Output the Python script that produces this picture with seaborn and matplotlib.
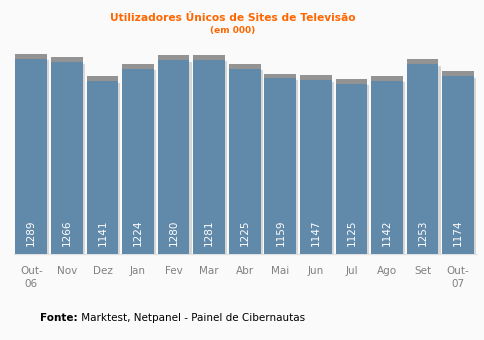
import matplotlib
matplotlib.use("Agg")
import matplotlib.pyplot as plt
import matplotlib.patheffects as pe
import seaborn as sns
import pandas as pd
import numpy as np

months = ["Out-\n06", "Nov", "Dez", "Jan", "Fev", "Mar", "Abr", "Mai", "Jun",
          "Jul", "Ago", "Set", "Out-\n07"]
users = [1289, 1266, 1141, 1224, 1280, 1281, 1225, 1159, 1147, 1125, 1142, 1253, 1174]

title = "Utilizadores Únicos de Sites de Televisão"
subtitle = "(em 000)"
source_label = "Fonte:"
source_text = " Marktest, Netpanel - Painel de Cibernautas"

bg = "#FAFAFA"
bar_color = "#6189AA"
orange = "#FF6600"

sns.set_theme(style="white")
plt.rcParams["font.family"] = ["DejaVu Sans"]

df = pd.DataFrame({"month": months, "users": users})

fig = plt.figure(figsize=(4.85, 3.4), dpi=100, facecolor=bg)
ax = fig.add_axes([13.5 / 485, 1 - 254 / 340, (476 - 13.5) / 485, (254 - 42) / 340])
ax.set_facecolor(bg)

sns.barplot(data=df, x="month", y="users", color=bar_color, saturation=1,
            width=0.89, ax=ax, zorder=3)

for patch in ax.patches:
    patch.set_edgecolor("none")
    patch.set_path_effects([
        pe.SimplePatchShadow(offset=(1.5, -1), shadow_rgbFace="#d6d6d6", alpha=1),
        pe.SimplePatchShadow(offset=(0, 3.5), shadow_rgbFace="#939393", alpha=1),
        pe.Normal(),
    ])

for i, v in enumerate(users):
    ax.text(i, 52, f"{v}", rotation=90, ha="center", va="bottom",
            color="white", fontsize=7.5, zorder=5)

ax.set_ylim(0, 1400)
ax.set_xlim(-0.5, len(months) - 0.5)
ax.set_xlabel("")
ax.set_ylabel("")
ax.set_yticks([])
for s in ["top", "right", "left"]:
    ax.spines[s].set_visible(False)
ax.spines["bottom"].set_color("#e2e2e2")
ax.spines["bottom"].set_linewidth(1)

ax.set_xticks(np.arange(-0.5, len(months)), minor=True)
ax.tick_params(axis="x", which="minor", length=4, color="#dddddd", width=1)
ax.tick_params(axis="x", which="major", length=0, pad=9, labelsize=7.5,
               labelcolor="#808080")
for lbl in ax.get_xticklabels():
    lbl.set_linespacing(1.3)
    lbl.set_verticalalignment("top")

fig.text(233 / 485, 1 - 18 / 340, title, color=orange, fontsize=7.7,
         fontweight="bold", ha="center", va="center")
fig.text(233 / 485, 1 - 30 / 340, subtitle, color=orange, fontsize=6.5,
         fontweight="bold", ha="center", va="center")

t = fig.text(40 / 485, 1 - 318 / 340, source_label, color="black", fontsize=7.5,
             fontweight="bold", ha="left", va="center")
fig.canvas.draw()
bb = t.get_window_extent()
fig.text(bb.x1 / fig.bbox.width, 1 - 318 / 340, source_text, color="black",
         fontsize=7.5, ha="left", va="center")

fig.savefig("out.png", dpi=100, facecolor=bg)
